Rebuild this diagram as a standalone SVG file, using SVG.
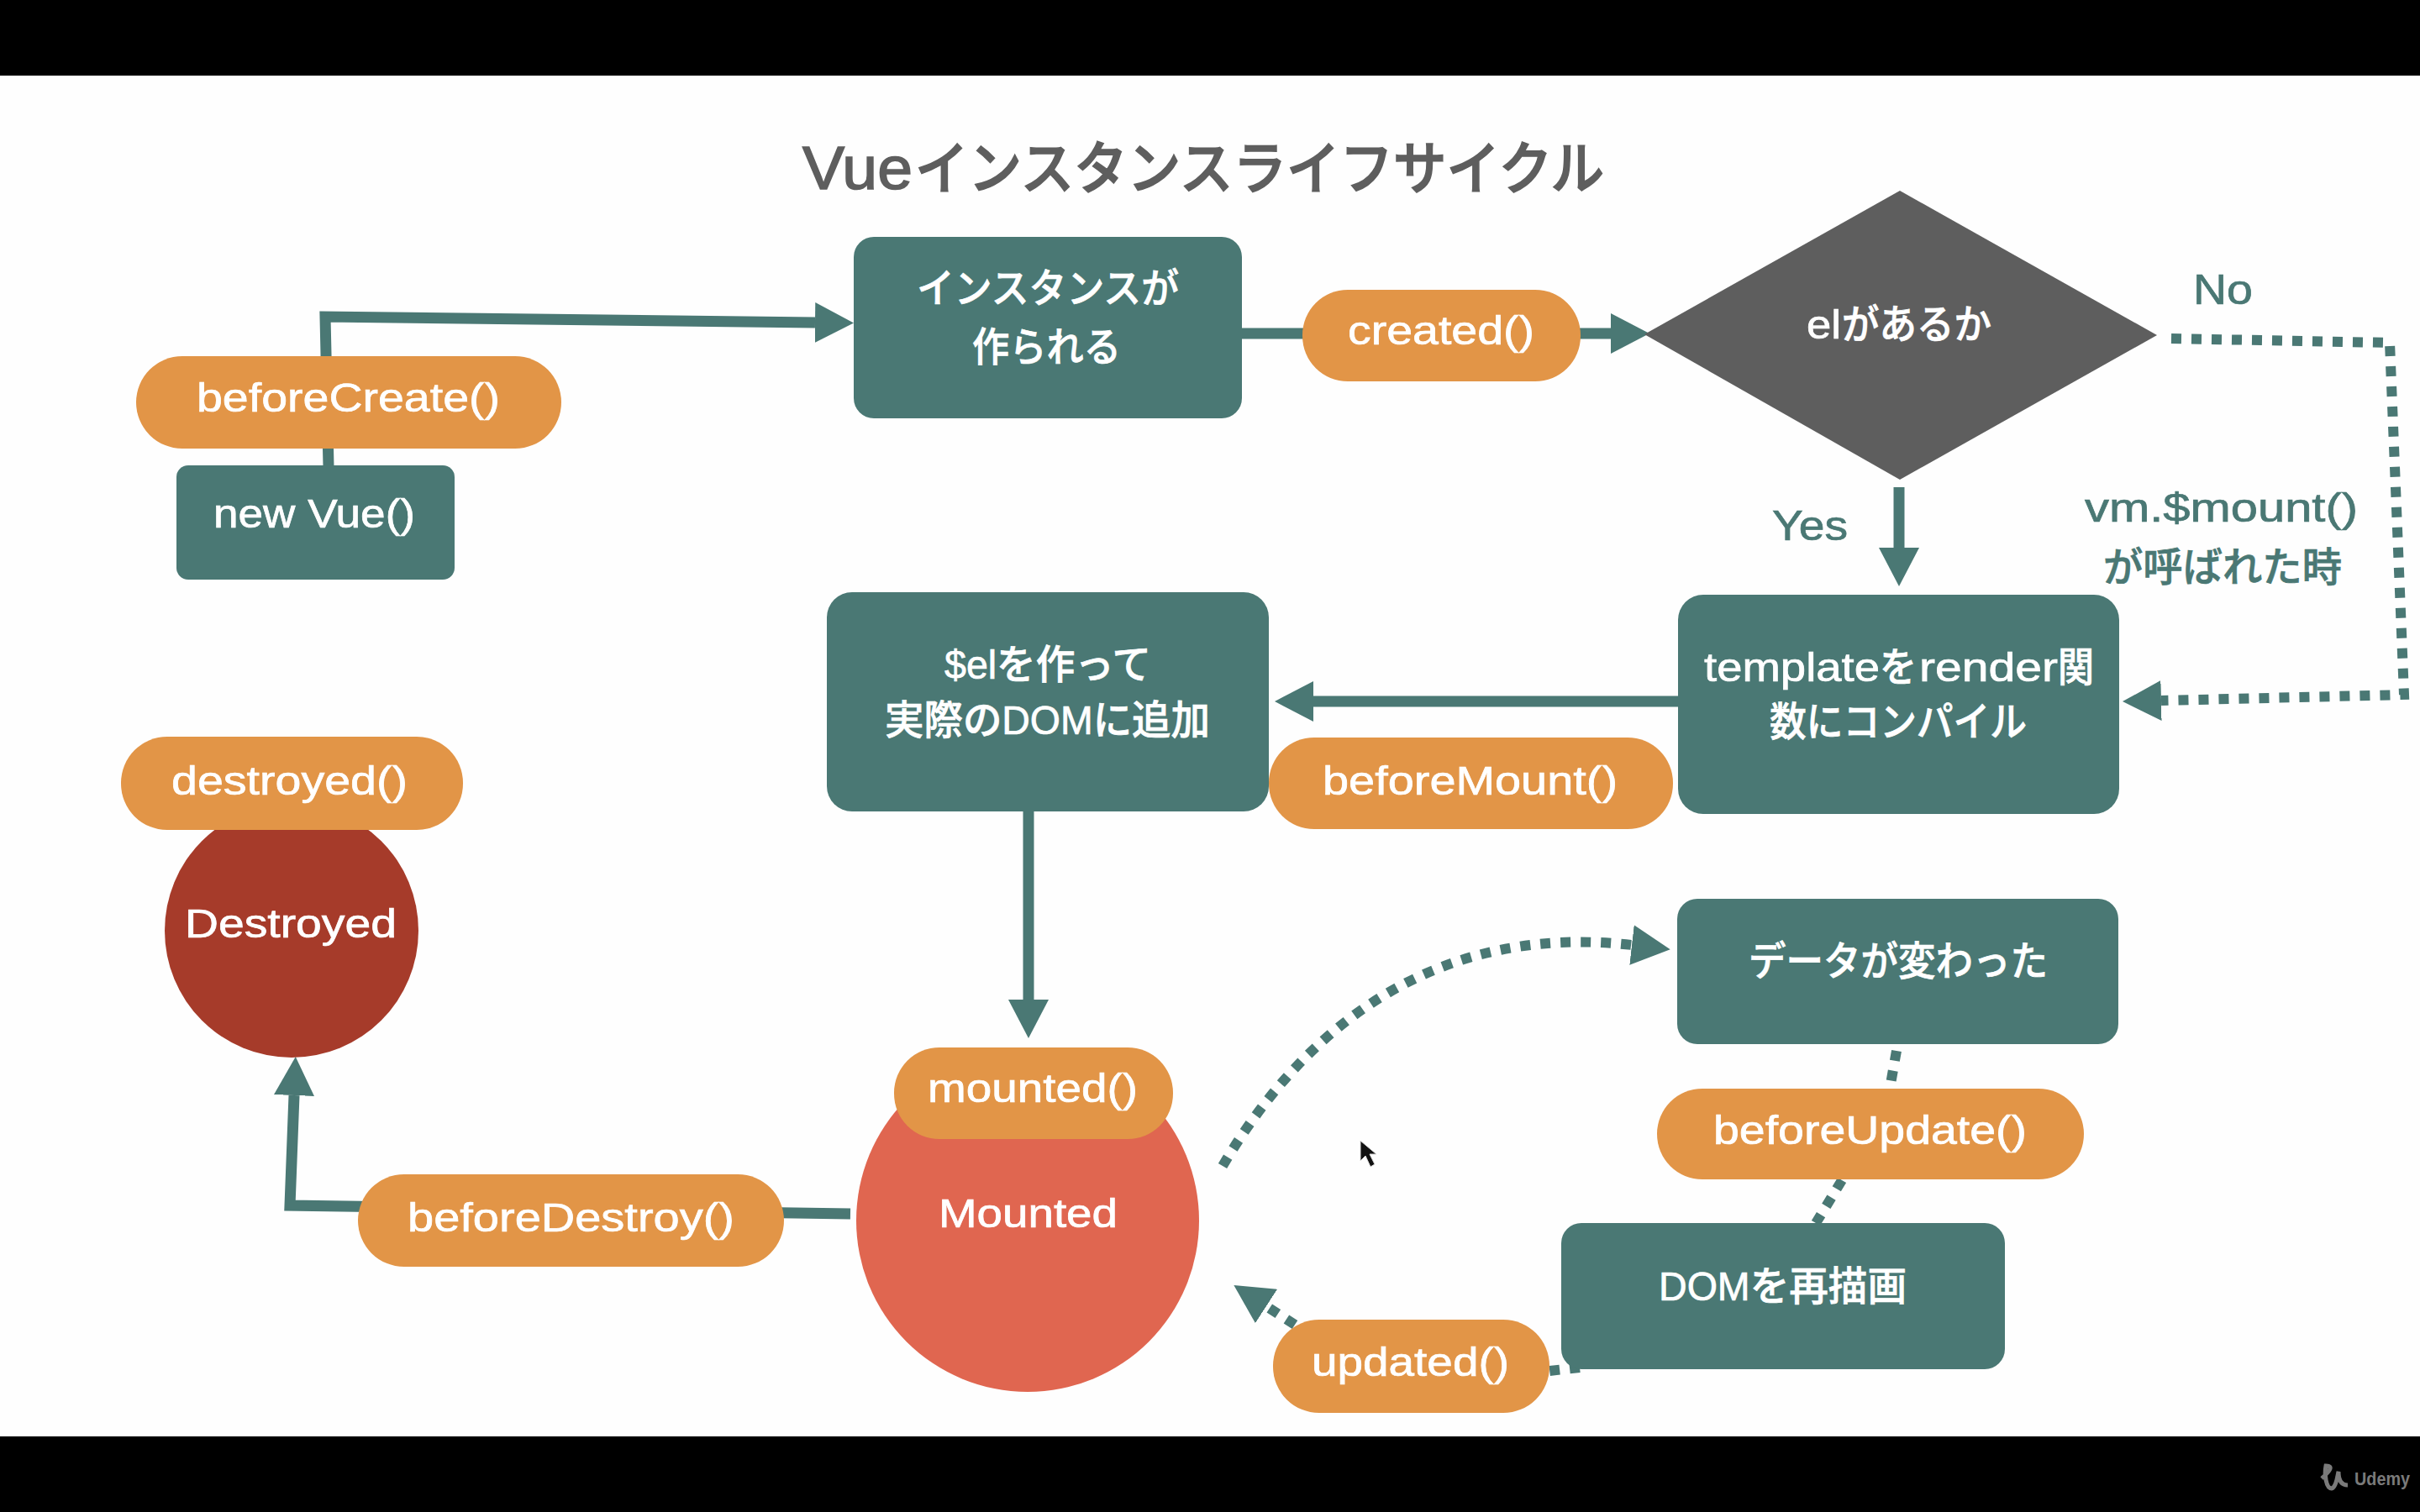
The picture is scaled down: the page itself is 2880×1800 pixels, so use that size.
<svg xmlns="http://www.w3.org/2000/svg" width="2880" height="1800" viewBox="0 0 2880 1800">
<style>
text{font-family:"Liberation Sans","Noto Sans CJK JP",sans-serif;font-size:48px;font-weight:500;fill:#fff;stroke:#fff;stroke-width:.7}
.box{fill:#4a7874}
.pill{fill:#e29547}
.l{fill:none;stroke:#4a7874;stroke-width:13}
.d{fill:none;stroke:#4a7874;stroke-width:12;stroke-dasharray:12 12}
.a{marker-end:url(#head)}
text.t{fill:#4a7874;stroke:#4a7874}
</style>
<defs>
<marker id="head" markerUnits="userSpaceOnUse" markerWidth="46" markerHeight="48" refX="0" refY="24" orient="auto" viewBox="0 0 46 48"><path d="M0 0L46 24L0 48Z" fill="#4a7874"/></marker>
</defs>
<rect width="2880" height="1800" fill="#fefefe"/>
<rect id="bar-top" width="2880" height="90" fill="#000"/>
<rect id="bar-bottom" y="1710" width="2880" height="90" fill="#000"/>
<text id="title" y="225" style="font-size:72px;fill:#5e5e5e;stroke:#5e5e5e;stroke-width:1.6"><tspan x="955" textLength="131" lengthAdjust="spacingAndGlyphs">Vue</tspan><tspan x="1089" textLength="820" lengthAdjust="spacingAndGlyphs" style="font-size:68px">インスタンスライフサイクル</tspan></text>
<g id="connectors">
<path class="l a" d="M391 556L387 377L970 384"/>
<path class="l a" d="M1478 397H1917"/>
<path class="l a" d="M2260 580V652"/>
<path class="l a" d="M1997 835H1563"/>
<path class="l a" d="M1224 966V1190"/>
<path class="l a" d="M1012 1445L345 1435L350 1304"/>
<path class="d a" d="M2584 403L2844 408L2861 827L2572 834"/>
<path class="d a" d="M1455 1388C1560 1210 1720 1100 1942 1125"/>
<path class="d" d="M2257 1251L2249 1296"/>
<path class="d" d="M2192 1405L2161 1456"/>
<path class="d" d="M1880 1628L1844 1632"/>
<path class="d a" d="M1541 1577L1507 1555"/>
</g>
<g id="new-vue"><rect class="box" x="210" y="554" width="331" height="136" rx="14"/><text x="254" y="628" textLength="240" lengthAdjust="spacingAndGlyphs">new Vue()</text></g>
<g id="before-create"><rect class="pill" x="162" y="424" width="506" height="110" rx="55"/><text x="234" y="490" textLength="361" lengthAdjust="spacingAndGlyphs">beforeCreate()</text></g>
<g id="instance"><rect class="box" x="1016" y="282" width="462" height="216" rx="24"/><text x="1091" y="360" textLength="312" lengthAdjust="spacingAndGlyphs">インスタンスが</text><text x="1157" y="430" textLength="177" lengthAdjust="spacingAndGlyphs">作られる</text></g>
<g id="created"><rect class="pill" x="1550" y="345" width="331" height="109" rx="54"/><text x="1604" y="410" textLength="222" lengthAdjust="spacingAndGlyphs">created()</text></g>
<g id="decision"><path d="M2261 227L2567 399L2261 571L1957 398Z" fill="#5e5e5e"/><text y="403"><tspan x="2150" textLength="41" lengthAdjust="spacingAndGlyphs">el</tspan><tspan x="2192" textLength="178" lengthAdjust="spacingAndGlyphs">があるか</tspan></text></g>
<g id="label-no"><text class="t" x="2610" y="362" textLength="71" lengthAdjust="spacingAndGlyphs" style="font-size:50px">No</text></g>
<g id="label-yes"><text class="t" x="2109" y="643" textLength="90" lengthAdjust="spacingAndGlyphs" style="font-size:50px">Yes</text></g>
<g id="label-mount"><text class="t" x="2481" y="621" textLength="325" lengthAdjust="spacingAndGlyphs">vm.$mount()</text><text class="t" x="2503" y="692" textLength="284" lengthAdjust="spacingAndGlyphs">が呼ばれた時</text></g>
<g id="template"><rect class="box" x="1997" y="708" width="525" height="261" rx="30"/><text y="811"><tspan x="2028" textLength="209" lengthAdjust="spacingAndGlyphs">template</tspan><tspan x="2237" textLength="44" lengthAdjust="spacingAndGlyphs">を</tspan><tspan x="2284" textLength="165" lengthAdjust="spacingAndGlyphs">render</tspan><tspan x="2449" textLength="43" lengthAdjust="spacingAndGlyphs">関</tspan></text><text x="2106" y="876" textLength="306" lengthAdjust="spacingAndGlyphs">数にコンパイル</text></g>
<g id="el"><rect class="box" x="984" y="705" width="526" height="261" rx="30"/><text x="1124" y="808" textLength="246" lengthAdjust="spacingAndGlyphs">$elを作って</text><text x="1053" y="874" textLength="387" lengthAdjust="spacingAndGlyphs">実際のDOMに追加</text></g>
<g id="before-mount"><rect class="pill" x="1510" y="878" width="481" height="109" rx="54"/><text x="1574" y="946" textLength="351" lengthAdjust="spacingAndGlyphs">beforeMount()</text></g>
<g id="destroyed"><circle cx="347" cy="1108" r="151" fill="#a63b2a"/><text x="220" y="1116" textLength="252" lengthAdjust="spacingAndGlyphs">Destroyed</text></g>
<g id="destroyed-hook"><rect class="pill" x="144" y="877" width="407" height="111" rx="55"/><text x="204" y="946" textLength="281" lengthAdjust="spacingAndGlyphs">destroyed()</text></g>
<g id="mounted"><circle cx="1223" cy="1453" r="204" fill="#e06650"/><text x="1117" y="1461" textLength="213" lengthAdjust="spacingAndGlyphs">Mounted</text></g>
<g id="mounted-hook"><rect class="pill" x="1064" y="1247" width="332" height="109" rx="54"/><text x="1104" y="1312" textLength="250" lengthAdjust="spacingAndGlyphs">mounted()</text></g>
<g id="before-destroy"><rect class="pill" x="426" y="1398" width="507" height="110" rx="55"/><text x="485" y="1466" textLength="389" lengthAdjust="spacingAndGlyphs">beforeDestroy()</text></g>
<g id="data-changed"><rect class="box" x="1996" y="1070" width="525" height="173" rx="24"/><text x="2081" y="1161" textLength="356" lengthAdjust="spacingAndGlyphs">データが変わった</text></g>
<g id="before-update"><rect class="pill" x="1972" y="1296" width="508" height="108" rx="54"/><text x="2039" y="1362" textLength="373" lengthAdjust="spacingAndGlyphs">beforeUpdate()</text></g>
<g id="dom"><rect class="box" x="1858" y="1456" width="528" height="174" rx="24"/><text x="1974" y="1548" textLength="295" lengthAdjust="spacingAndGlyphs">DOMを再描画</text></g>
<g id="updated"><rect class="pill" x="1515" y="1571" width="329" height="111" rx="55"/><text x="1561" y="1638" textLength="235" lengthAdjust="spacingAndGlyphs">updated()</text></g>
<path id="cursor" d="M1619 1358V1382L1625 1376L1631 1389L1636 1386L1630 1374L1638 1374Z" fill="#111" stroke="#ddd" stroke-width="1"/>
<path id="udemy-mark" d="M2763 1760C2772 1752 2778 1745 2768 1745C2766 1755 2768 1772 2775 1772C2781 1770 2782 1755 2783 1752C2783 1762 2786 1768 2794 1768" fill="none" stroke="#7a7a7a" stroke-width="5"/>
<text id="udemy" x="2802" y="1768" textLength="66" lengthAdjust="spacingAndGlyphs" style="font-size:22px;font-weight:700;fill:#7a7a7a;stroke:none">Udemy</text>
</svg>
